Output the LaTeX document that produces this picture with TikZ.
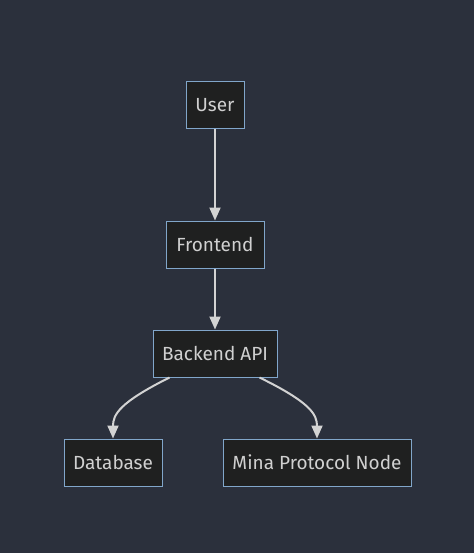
\documentclass[tikz,border=0pt]{standalone}
\usepackage{fontspec}
\setmainfont{Fira Sans}
\usetikzlibrary{arrows.meta,calc}
\definecolor{bgc}{HTML}{2B303C}
\definecolor{nodefill}{HTML}{1F2020}
\definecolor{nodeline}{HTML}{81A6CA}
\definecolor{txt}{HTML}{D0D0D0}
\definecolor{edge}{HTML}{D3D3D3}
\begin{document}
\begin{tikzpicture}[x=1pt,y=-1pt,
  box/.style={draw=nodeline,fill=nodefill,line width=1pt,text=txt,
    font=\fontsize{19}{22}\selectfont,minimum height=47pt,inner sep=0pt,anchor=center},
  conn/.style={draw=edge,line width=2pt,-{Triangle[length=13pt,width=11pt]}}]
\fill[bgc] (0,0) rectangle (474,553);
\useasboundingbox (0,0) rectangle (474,553);
\node[box,minimum width=58pt] (user) at (215,105.5) {User};
\node[box,minimum width=98pt] (front) at (215,244.5) {Frontend};
\node[box,minimum width=124pt] (back) at (215,353.5) {Backend API};
\node[box,minimum width=98pt] (db) at (113,462.5) {Database};
\node[box,minimum width=188pt] (mina) at (317,462.5) {Mina Protocol Node};
\draw[conn] (user.south) -- (front.north);
\draw[conn] (front.south) -- (back.north);
\draw[conn] ($(back.south west)+(17,0)$) .. controls ($(back.south west)+(-33,25)$) and ($(db.north)+(0,-24)$) .. (db.north);
\draw[conn] ($(back.south east)+(-18,0)$) .. controls ($(back.south east)+(33,25)$) and ($(mina.north)+(0,-24)$) .. (mina.north);
\end{tikzpicture}
\end{document}
